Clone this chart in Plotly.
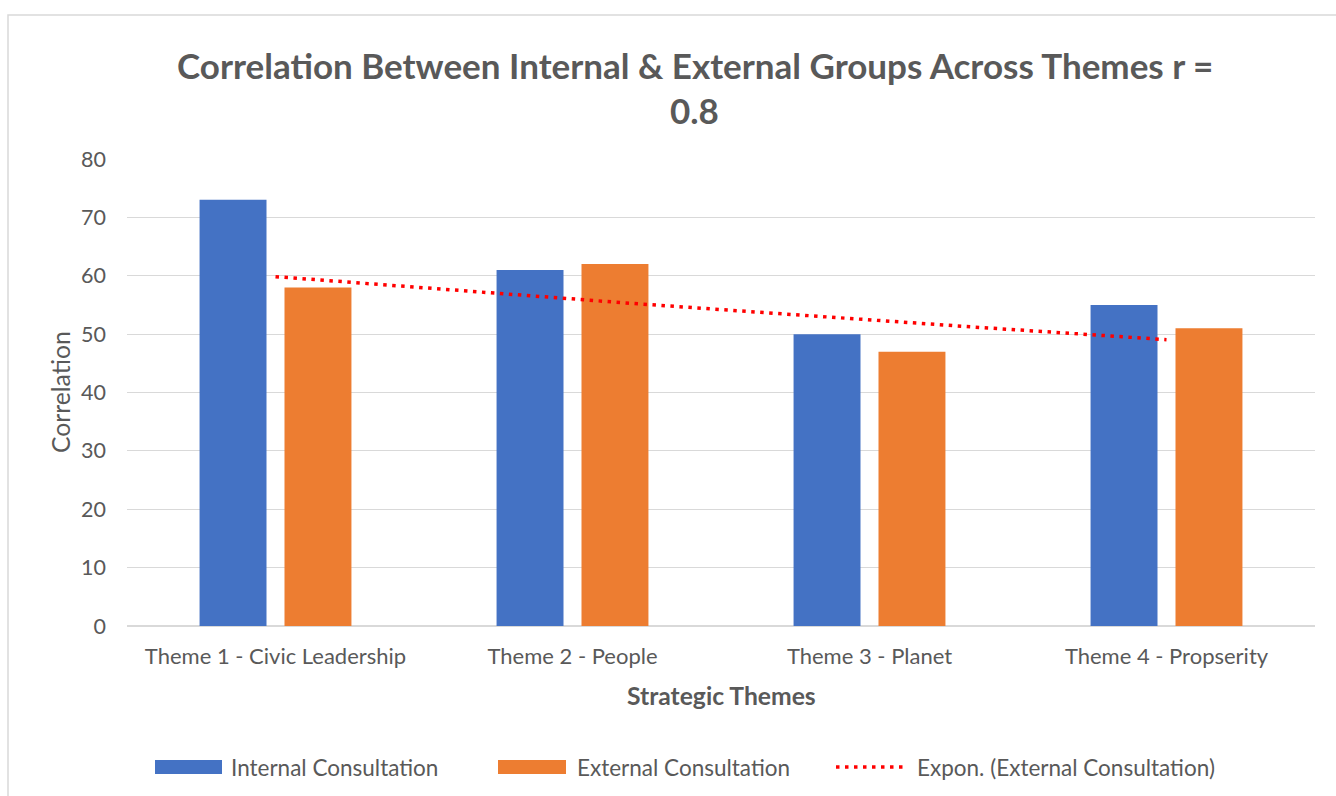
import numpy as np
import plotly.graph_objects as go

themes = ["Theme 1 - Civic Leadership", "Theme 2 - People", "Theme 3 - Planet", "Theme 4 - Propserity"]
internal = [73, 61, 50, 55]
external = [58, 62, 47, 51]
series_names = ["Internal Consultation", "External Consultation", "Expon. (External Consultation)"]
y_ticks = [0, 10, 20, 30, 40, 50, 60, 70, 80]

BLUE = "#4472C4"
ORANGE = "#ED7D31"
RED = "#FF0000"
GREY = "#595959"
GRID = "#D9D9D9"
FONT = "Lato, Calibri, Carlito, sans-serif"

W, H = 1336, 796
L, R, T, B = 127, 1315, 159, 626


def px(xp):
    return (xp - L) / (R - L)


def py(yp):
    return (B - yp) / (B - T)


# Exponential trendline of external consultation (Excel style fit)
xi = np.arange(1, len(external) + 1)
slope, intercept = np.polyfit(xi, np.log(external), 1)
xs = np.linspace(1, len(external), 60)
ys = np.exp(intercept + slope * xs)

fig = go.Figure()
fig.add_trace(go.Bar(x=themes, y=internal, name=series_names[0], marker_color=BLUE,
                     marker_line_width=0, showlegend=False))
fig.add_trace(go.Bar(x=themes, y=external, name=series_names[1], marker_color=ORANGE,
                     marker_line_width=0, showlegend=False))
fig.add_trace(go.Scatter(x=xs, y=ys, mode="lines", xaxis="x2", yaxis="y",
                         line=dict(color=RED, width=3.5, dash="3.5px,5.5px"),
                         name=series_names[2], showlegend=False, hoverinfo="skip"))

shapes = [
    # chart area border
    dict(type="rect", xref="paper", yref="paper", x0=px(8), x1=px(1345), y0=py(805), y1=py(15),
         line=dict(color=GRID, width=1.5), fillcolor="rgba(0,0,0,0)", layer="below"),
    # legend keys
    dict(type="rect", xref="paper", yref="paper", x0=px(155), x1=px(222), y0=py(774), y1=py(760),
         line=dict(width=0), fillcolor=BLUE),
    dict(type="rect", xref="paper", yref="paper", x0=px(498), x1=px(566), y0=py(774), y1=py(760),
         line=dict(width=0), fillcolor=ORANGE),
    dict(type="line", xref="paper", yref="paper", x0=px(836), x1=px(905), y0=py(767), y1=py(767),
         line=dict(color=RED, width=3.5, dash="3.5px,5.5px")),
]

annotations = [
    dict(text="Correlation Between Internal & External Groups Across Themes r =",
         x=px(694.5), y=py(65), xref="paper", yref="paper", showarrow=False,
         xanchor="center", yanchor="middle", font=dict(family=FONT, size=35, color=GREY, weight="bold")),
    dict(text="0.8", x=px(694.5), y=py(110), xref="paper", yref="paper", showarrow=False,
         xanchor="center", yanchor="middle", font=dict(family=FONT, size=35, color=GREY, weight="bold")),
    dict(text="Correlation", x=px(60), y=py(392), xref="paper", yref="paper", showarrow=False,
         textangle=-90, xanchor="center", yanchor="middle", font=dict(family=FONT, size=24.7, color=GREY)),
    dict(text="Strategic Themes", x=px(721), y=py(695), xref="paper", yref="paper", showarrow=False,
         xanchor="center", yanchor="middle", font=dict(family=FONT, size=24.7, color=GREY, weight="bold")),
    dict(text=series_names[0], x=px(229), y=py(767), xref="paper", yref="paper", showarrow=False,
         xanchor="left", yanchor="middle", font=dict(family=FONT, size=22.5, color=GREY)),
    dict(text=series_names[1], x=px(575), y=py(767), xref="paper", yref="paper", showarrow=False,
         xanchor="left", yanchor="middle", font=dict(family=FONT, size=22.5, color=GREY)),
    dict(text=series_names[2], x=px(915), y=py(767), xref="paper", yref="paper", showarrow=False,
         xanchor="left", yanchor="middle", font=dict(family=FONT, size=22.5, color=GREY)),
]

fig.update_layout(
    width=W, height=H,
    margin=dict(l=L, r=W - R, t=T, b=H - B, pad=0),
    paper_bgcolor="white", plot_bgcolor="white",
    barmode="group", bargap=0.428, bargroupgap=0.212,
    font=dict(family=FONT, color=GREY, size=18),
    xaxis=dict(type="category", showgrid=False, showline=False, ticks="",
               tickfont=dict(family=FONT, size=22, color=GREY), ticklabelstandoff=15,
               zeroline=False),
    xaxis2=dict(overlaying="x", range=[0.5, len(themes) + 0.5], visible=False, anchor="y"),
    yaxis=dict(range=[0, 80], tickvals=y_ticks, showgrid=True, gridcolor=GRID, gridwidth=1.3,
               zeroline=True, zerolinecolor=GRID, zerolinewidth=1.6, showline=False, ticks="",
               tickfont=dict(family=FONT, size=21.5, color=GREY), ticklabelstandoff=20),
    shapes=shapes,
    annotations=annotations,
    showlegend=False,
)

fig.write_html("out.html")
